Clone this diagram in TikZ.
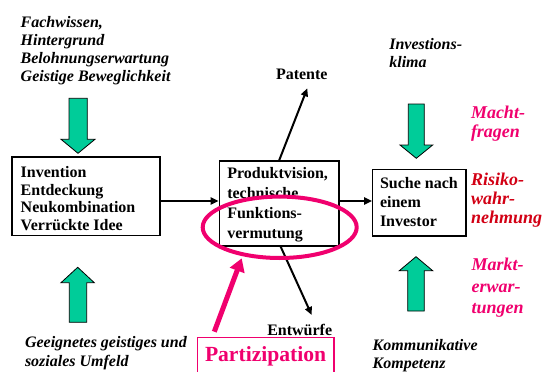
\documentclass[tikz,border=0pt]{standalone}
\usepackage{fontspec}
\setmainfont{Liberation Serif}
\usetikzlibrary{arrows.meta}
\definecolor{blockgreen}{RGB}{0,204,153}
\definecolor{hotpink}{RGB}{240,0,110}
\definecolor{riskred}{RGB}{210,0,20}
\tikzset{
  % multi-line nodes are anchored at the baseline of their last line
  txt/.style={anchor=base west, inner sep=0pt, outer sep=0pt, align=left},
  bi/.style={txt, font=\bfseries\itshape\fontsize{16}{#1}\selectfont},
  bibig/.style={txt, font=\bfseries\itshape\fontsize{18}{#1}\selectfont},
  bd/.style={txt, font=\bfseries\fontsize{16}{#1}\selectfont},
  boxed/.style={draw=black, line width=1.2pt, rectangle, inner sep=0pt},
  arr/.style={draw=black, line width=2pt, -{Triangle[length=8pt,width=7pt]}},
  garrow/.style={fill=blockgreen, draw=black, line width=0.8pt, line join=miter},
}
\begin{document}
\begin{tikzpicture}[x=1pt,y=-1pt]
\useasboundingbox (0,0) rectangle (558,372);

% influence texts
\node[bi=18.2] (fach) at (20.7,81.9) {Fachwissen,\\Hintergrund\\Belohnungserwartung\\Geistige Beweglichkeit};
\node[bi=18.7] (geeig) at (25,366) {Geeignetes geistiges und\\soziales Umfeld};
\node[bi=18] (invest) at (389.3,67.3) {Investions-\\klima};
\node[bi=18.3] (komm) at (372.7,368.3) {Kommunikative\\Kompetenz};
\node[bibig=19, text=hotpink] (macht) at (471,137.3) {Macht-\\fragen};
\node[bibig=19.2, text=riskred] (risiko) at (471,223.4) {Risiko-\\wahr-\\nehmung};
\node[bibig=21.3, text=hotpink] (markt) at (471.7,313.3) {Markt-\\erwar-\\tungen};

% green block arrows
\draw[garrow] (69,98.3) -- (87.3,98.3) -- (87.3,139.3) -- (95,139.3) -- (78,153.3) -- (61,139.3) -- (69,139.3) -- cycle;
\draw[garrow] (69.3,322.3) -- (86.7,322.3) -- (86.7,282.7) -- (94.3,282.7) -- (77.7,267.3) -- (61,282.7) -- (69.3,282.7) -- cycle;
\draw[garrow] (408.3,104) -- (424.3,104) -- (424.3,145) -- (432.7,145) -- (416.3,158.3) -- (400,145) -- (408.3,145) -- cycle;
\draw[garrow] (407.7,311) -- (424.3,311) -- (424.3,270.7) -- (432.7,270.7) -- (416,256.7) -- (399.3,270.7) -- (407.7,270.7) -- cycle;

% process boxes
\node[boxed, minimum width=148pt, minimum height=78.7pt] (inv) at (86,196.35) {};
\node[bd=17.8] (invtxt) at (20.7,230.7) {Invention\\Entdeckung\\Neukombination\\Verrückte Idee};
\node[boxed, minimum width=119.7pt, minimum height=85pt] (prod) at (279.15,203.5) {};
\node[bd=20] (prodtxt) at (227.3,238.3) {Produktvision,\\technische\\Funktions-\\vermutung};
\node[boxed, minimum width=93.3pt, minimum height=66.7pt] (such) at (419.35,202.65) {};
\node[bd=19.2] (suchtxt) at (380,226.7) {Suche nach\\einem\\Investor};

% outputs
\node[bd=18] (pat) at (276,79.3) {Patente};
\node[bd=18] (ent) at (267.3,335) {Entwürfe};
\coordinate (patTip) at (307.3,88.3);
\coordinate (entTip) at (311.7,315);

% connectors
\draw[arr] ([yshift=-4.65pt]inv.east) -- ([yshift=2.5pt]prod.west);
\draw[arr] ([yshift=2.5pt]prod.east) -- ([yshift=1.65pt]such.west);
\draw[arr] (prod.north) -- (patTip);
\draw[arr] ([xshift=1.5pt]prod.south) -- (entTip);

% participation
\node[draw=hotpink, line width=1.2pt, rectangle, inner sep=0pt, minimum width=136.7pt, minimum height=42.7pt] (part) at (265.65,358.65) {};
\node[txt, text=hotpink, font=\bfseries\fontsize{21.6}{24}\selectfont] (parttxt) at (205,361.7) {Partizipation};
\coordinate (partFoot) at (214.3,331.7);
\coordinate (partTip) at (241.7,258.3);
\draw[hotpink, line width=5pt, -{Triangle[length=13pt,width=15pt]}] (partFoot) -- (partTip);
\draw[hotpink, line width=4pt] (279.7,227.3) ellipse [x radius=77, y radius=30.7];
\end{tikzpicture}
\end{document}
